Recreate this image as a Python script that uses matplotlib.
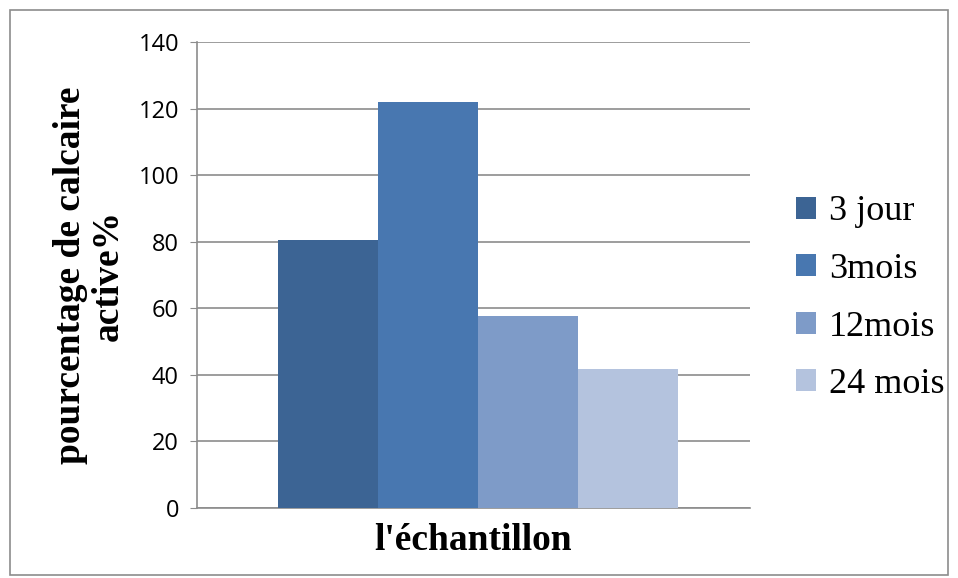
import matplotlib.pyplot as plt
from matplotlib.patches import Rectangle

# series (one bar each, single category)
series = ["3 jour", "3mois", "12mois", "24 mois"]
values = [80.5, 122, 57.7, 41.8]
colors = ["#3C6494", "#4877B0", "#7E9BC8", "#B4C3DE"]
yticks = [0, 20, 40, 60, 80, 100, 120, 140]

fig = plt.figure(figsize=(9.58, 5.78), dpi=100)
ax = fig.add_axes([197 / 958, 1 - 508 / 578, 553 / 958, 466 / 578])

bar_w = 0.181
offsets = [(i - 1.5) * bar_w for i in range(len(series))]
for off, v, c, name in zip(offsets, values, colors, series):
    ax.bar(off, v, width=bar_w, color=c, label=name, zorder=3)

ax.set_xlim(-0.508, 0.492)
ax.set_ylim(0, 140)
ax.set_yticks(yticks)
ax.set_xticks([])
ax.yaxis.grid(True, color="#8C8C8C", linewidth=1.2, zorder=0)
for s in ["top", "right"]:
    ax.spines[s].set_visible(False)
ax.spines["left"].set_color("#8C8C8C")
ax.spines["bottom"].set_color("#8C8C8C")
ax.spines["left"].set_linewidth(1.2)
ax.spines["bottom"].set_linewidth(1.2)
ax.tick_params(axis="y", length=5, color="#8C8C8C", labelsize=17, pad=8)
for lab in ax.get_yticklabels():
    lab.set_fontfamily("Open Sans")

ax.set_xlabel("l'échantillon", fontfamily="Liberation Serif", fontweight="bold",
              fontsize=27, labelpad=11)
ax.set_ylabel("pourcentage de calcaire\nactive%", fontfamily="Liberation Serif",
              fontweight="bold", fontsize=27, labelpad=9, linespacing=1.12)

ax.legend(loc="center left", bbox_to_anchor=(1.0, 0.45), frameon=False,
          prop={"family": "Liberation Serif", "size": 26},
          handlelength=0.55, handleheight=0.55, handletextpad=0.35, labelspacing=0.68,
          borderaxespad=0.88)

# outer chart border
fig.patches.append(Rectangle((10 / 958, 3 / 578), 938 / 958, 565 / 578,
                             transform=fig.transFigure, fill=False,
                             edgecolor="#8C8C8C", linewidth=1.2))

fig.savefig("out.png", dpi=100)
